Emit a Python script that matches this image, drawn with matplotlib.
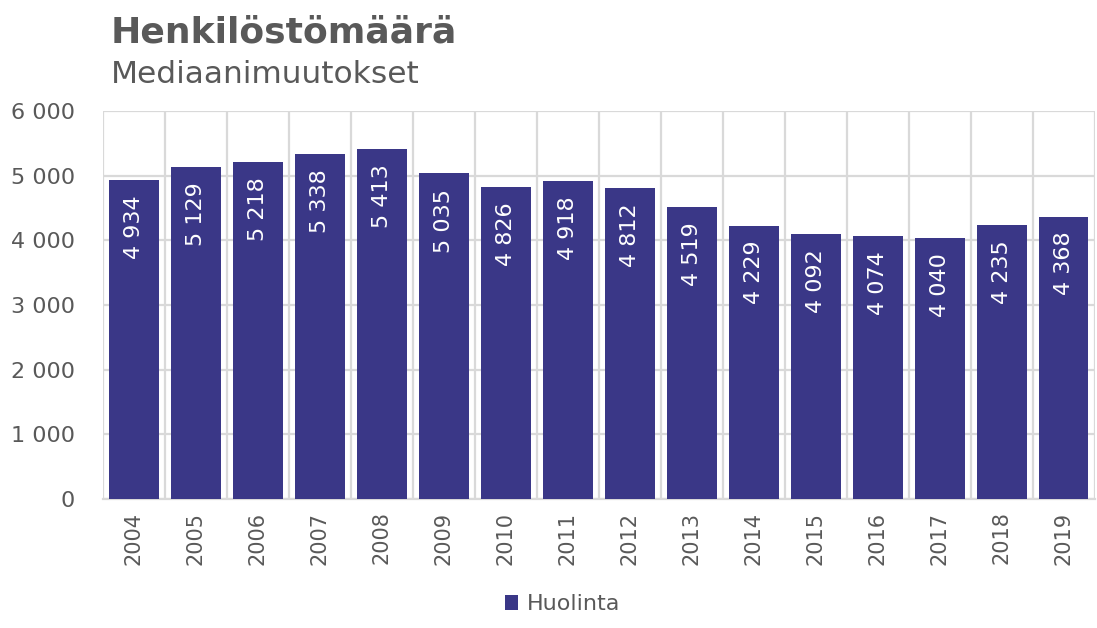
import numpy as np
import matplotlib.pyplot as plt
from matplotlib.ticker import FuncFormatter

years = ["2004", "2005", "2006", "2007", "2008", "2009", "2010", "2011",
         "2012", "2013", "2014", "2015", "2016", "2017", "2018", "2019"]
values = [4934, 5129, 5218, 5338, 5413, 5035, 4826, 4918,
          4812, 4519, 4229, 4092, 4074, 4040, 4235, 4368]

bar_color = "#3a3787"
grid_color = "#d9d9d9"
text_color = "#595959"

def fmt(v):
    return f"{int(v):,}".replace(",", " ")

fig = plt.figure(figsize=(10.97, 6.28), dpi=100)
ax = fig.add_axes([0.0939, 0.2054, 0.904, 0.6178])

x = np.arange(len(years))
bars = ax.bar(x, values, width=0.8, color=bar_color, label="Huolinta", zorder=3)

for b, v in zip(bars, values):
    ax.annotate(fmt(v), (b.get_x() + b.get_width() / 2, v), xytext=(0, -11),
                textcoords="offset points", rotation=90, ha="center", va="top",
                color="white", fontsize=16, zorder=4)

ax.set_xlim(-0.5, len(years) - 0.5)
ax.set_ylim(0, 6000)
ax.set_yticks(range(0, 6001, 1000))
ax.yaxis.set_major_formatter(FuncFormatter(lambda v, p: fmt(v)))
ax.set_xticks(x)
ax.set_xticklabels(years, rotation=90)
ax.set_xticks(np.arange(-0.5, len(years), 1), minor=True)

ax.grid(axis="y", which="major", color=grid_color, linewidth=1.6, zorder=0)
ax.grid(axis="x", which="minor", color=grid_color, linewidth=1.6, zorder=0)
ax.grid(axis="x", which="major", visible=False)
for s in ["top", "right", "left"]:
    ax.spines[s].set_visible(False)
ax.spines["bottom"].set_color(grid_color)
ax.spines["bottom"].set_linewidth(1.6)
ax.tick_params(which="both", length=0, labelsize=15, labelcolor=text_color)
ax.tick_params(axis="y", pad=20, labelsize=16)
ax.tick_params(axis="x", pad=9)

fig.text(0.101, 0.933, "Henkilöstömäärä", fontsize=26, fontweight="bold",
         color=text_color, ha="left", va="baseline")
fig.text(0.101, 0.868, "Mediaanimuutokset", fontsize=22.5,
         color=text_color, ha="left", va="baseline")

fig.legend(loc="lower center", bbox_to_anchor=(0.513, -0.01), frameon=False,
           fontsize=16, handlelength=0.6, handleheight=0.6, handletextpad=0.4,
           labelcolor=text_color)

fig.savefig("out.png", dpi=100)
